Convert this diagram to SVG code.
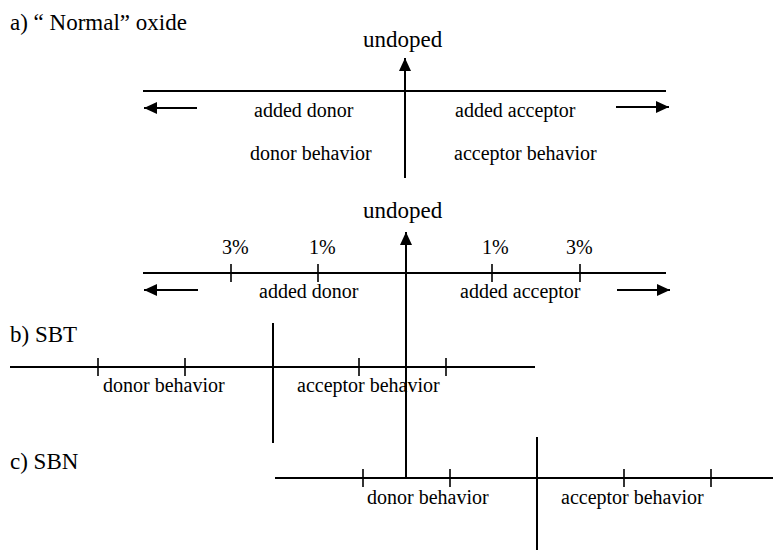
<svg xmlns="http://www.w3.org/2000/svg" width="773" height="552" viewBox="0 0 773 552">
<defs>
<marker id="ah" markerUnits="userSpaceOnUse" markerWidth="13" markerHeight="12" refX="13" refY="6" orient="auto">
<path d="M0,0 L13,6 L0,12 z" fill="#000"/>
</marker>
<style>
.ln{stroke:#000;stroke-width:2;fill:none}
.tk{stroke:#000;stroke-width:1.6;fill:none}
.ar{stroke:#000;stroke-width:2;fill:none;marker-end:url(#ah)}
.t{font-family:"Liberation Serif","Times New Roman",serif;font-size:20px;fill:#000}
.h{font-family:"Liberation Serif","Times New Roman",serif;font-size:23px;fill:#000}
</style>
</defs>
<rect width="773" height="552" fill="#fff"/>
<g id="panel-a">
<text class="h" x="10" y="30">a) “ Normal” oxide</text>
<text class="h" x="363" y="47">undoped</text>
<text class="t" x="254" y="117">added donor</text>
<text class="t" x="455" y="117">added acceptor</text>
<text class="t" x="250" y="160">donor behavior</text>
<text class="t" x="454" y="160">acceptor behavior</text>
</g>
<g id="panel-scale">
<text class="h" x="363" y="218">undoped</text>
<text class="t" x="222" y="254">3%</text>
<text class="t" x="309" y="254">1%</text>
<text class="t" x="482" y="254">1%</text>
<text class="t" x="566" y="254">3%</text>
<text class="t" x="259" y="298">added donor</text>
<text class="t" x="460" y="298">added acceptor</text>
</g>
<g id="panel-b">
<text class="h" x="10" y="342">b) SBT</text>
<text class="t" x="103" y="392">donor behavior</text>
<text class="t" x="297" y="392">acceptor behavior</text>
</g>
<g id="panel-c">
<text class="h" x="10" y="469">c) SBN</text>
<text class="t" x="367" y="504">donor behavior</text>
<text class="t" x="561" y="504">acceptor behavior</text>
</g>
<g id="connectors">
<line class="ln" x1="143" y1="91" x2="666" y2="91"/>
<line class="ar" x1="405" y1="178" x2="405" y2="58"/>
<line class="ar" x1="197" y1="108" x2="144" y2="108"/>
<line class="ar" x1="616" y1="107" x2="669" y2="107"/>
<line class="ln" x1="143" y1="273" x2="666" y2="273"/>
<line class="ar" x1="406" y1="478" x2="406" y2="232"/>
<line class="ar" x1="198" y1="290" x2="144" y2="290"/>
<line class="ar" x1="617" y1="290" x2="670" y2="290"/>
<line class="tk" x1="231" y1="264" x2="231" y2="282"/>
<line class="tk" x1="318" y1="264" x2="318" y2="282"/>
<line class="tk" x1="492" y1="264" x2="492" y2="282"/>
<line class="tk" x1="580" y1="264" x2="580" y2="282"/>
<line class="ln" x1="10" y1="367" x2="535" y2="367"/>
<line class="ln" x1="273" y1="323" x2="273" y2="443"/>
<line class="tk" x1="98" y1="358" x2="98" y2="376"/>
<line class="tk" x1="185" y1="358" x2="185" y2="376"/>
<line class="tk" x1="359" y1="358" x2="359" y2="376"/>
<line class="tk" x1="446" y1="358" x2="446" y2="376"/>
<line class="ln" x1="275" y1="478" x2="773" y2="478"/>
<line class="ln" x1="537" y1="437" x2="537" y2="550"/>
<line class="tk" x1="363" y1="469" x2="363" y2="487"/>
<line class="tk" x1="450" y1="469" x2="450" y2="487"/>
<line class="tk" x1="624" y1="469" x2="624" y2="487"/>
<line class="tk" x1="711" y1="469" x2="711" y2="487"/>
</g>
</svg>
